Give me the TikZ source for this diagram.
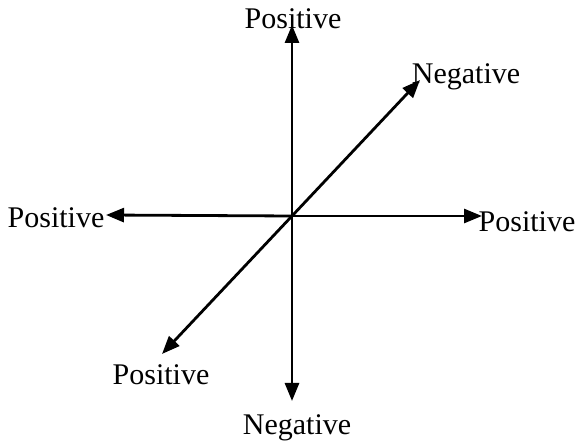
\documentclass[tikz,border=0pt]{standalone}
\usepackage{fontspec}
\setmainfont{Liberation Serif}
\usetikzlibrary{arrows.meta}
\begin{document}
\begin{tikzpicture}[x=1pt, y=-1pt, every node/.style={font=\fontsize{30}{31}\selectfont, inner sep=0pt},
  axis/.style={line width=2.8pt, -{Triangle[length=18pt, width=14pt]}}]
\useasboundingbox (0,0) rectangle (576,443);
% origin
\coordinate (o) at (292,216);

% arrow ends
\coordinate (up) at (292,25);
\coordinate (down) at (292,401);
\coordinate (left) at (106,215);
\coordinate (right) at (482,216);
\coordinate (ne) at (420,80);
\coordinate (sw) at (162,354);

% labels
\node (lblup) at (293,19) {Positive};
\node (lblne) at (466,77) {Negative};
\node (lblleft) at (56,218) {Positive};
\node (lblright) at (527,222) {Positive};
\node (lblsw) at (161,375) {Positive};
\node (lbldown) at (297,428) {Negative};

% arrows
\draw[axis] (o) -- (up);
\draw[axis] (o) -- (down);
\draw[axis] (o) -- (left);
\draw[axis] (o) -- (right);
\draw[axis] (o) -- (ne);
\draw[axis] (o) -- (sw);
\end{tikzpicture}
\end{document}
